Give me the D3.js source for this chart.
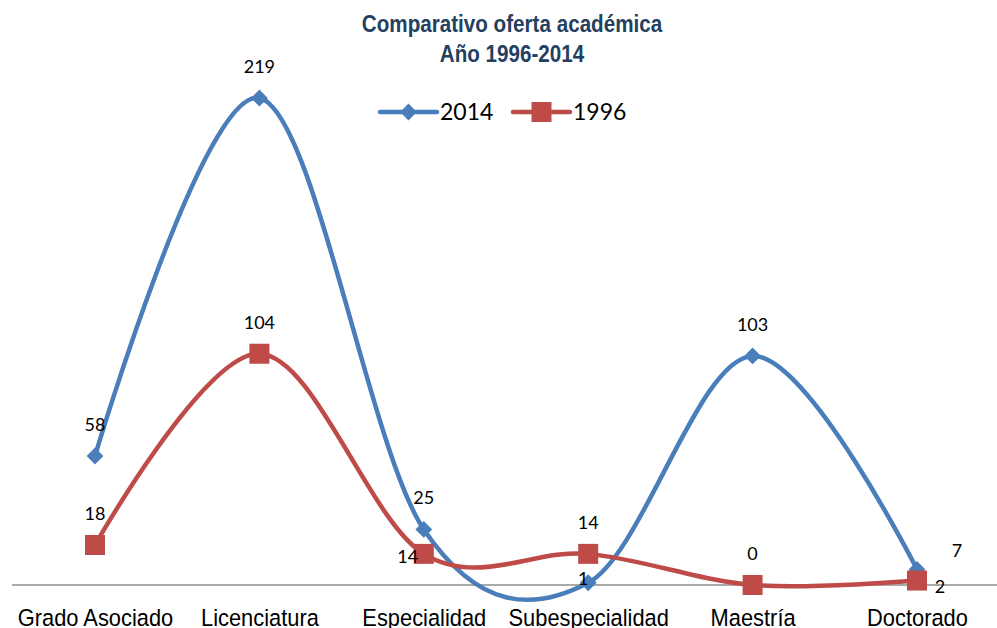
<!DOCTYPE html>
<html>
<head>
<meta charset="utf-8">
<script src="https://cdnjs.cloudflare.com/ajax/libs/d3/7.8.5/d3.min.js"></script>
<style>
  body { margin: 0; background: #fff; }
  svg { display: block; }
</style>
</head>
<body>
<div id="chart"></div>
<script>
// Data
var categories = ["Grado Asociado", "Licenciatura", "Especialidad", "Subespecialidad", "Maestría", "Doctorado"];
var values2014 = [58, 219, 25, 1, 103, 7];
var values1996 = [18, 104, 14, 14, 0, 2];
var seriesNames = ["2014", "1996"];
var titleLines = ["Comparativo oferta académica", "Año 1996-2014"];

// label placement per point
var labelPos2014 = ["top", "top", "top", "topleft", "top", "topright"];
var labelPos1996 = ["top", "top", "left", "top", "top", "right"];

var W = 997, H = 628;
var blue = "#4A7EBB", red = "#BE4B48";

var svg = d3.select("#chart").append("svg")
    .attr("width", W)
    .attr("height", H);

var x = d3.scalePoint()
    .domain(categories)
    .range([95, 917]);

var y = d3.scaleLinear()
    .domain([0, 219])
    .range([585, 98]);

// Title (narrow bold look)
svg.append("g").selectAll("text")
    .data(titleLines)
    .enter().append("text")
    .attr("transform", function(d, i) {
        return "translate(512," + (32 + i * 30) + ") scale(0.86,1)";
    })
    .attr("text-anchor", "middle")
    .style("font-family", "'Liberation Sans', Arial, sans-serif")
    .style("font-weight", "bold")
    .style("font-size", "24px")
    .style("fill", "#243F60")
    .text(function(d) { return d; });

// Axis line
svg.append("line")
    .attr("x1", 12).attr("x2", W)
    .attr("y1", y(0)).attr("y2", y(0))
    .attr("stroke", "#8c8c8c")
    .attr("stroke-width", 1.5);

// Category labels
var xAxis = d3.axisBottom(x).tickSize(0).tickPadding(0);
var gx = svg.append("g")
    .attr("transform", "translate(0," + y(0) + ")")
    .call(xAxis);
gx.select(".domain").remove();
gx.selectAll("text")
    .attr("dy", 0)
    .attr("y", 0)
    .attr("transform", "translate(0,41) scale(0.93,1)")
    .style("font-family", "'Liberation Sans', Arial, sans-serif")
    .style("font-size", "23.5px")
    .style("fill", "#000");

var line = d3.line()
    .x(function(d, i) { return x(categories[i]); })
    .y(function(d) { return y(d); })
    .curve(d3.curveCatmullRom.alpha(0));

function markerPath(marker) {
    return marker === "diamond"
        ? d3.symbol().type(d3.symbolDiamond2).size(180)()
        : d3.symbol().type(d3.symbolSquare).size(400)();
}

function drawSeries(vals, color, marker, positions) {
    svg.append("path")
        .datum(vals)
        .attr("d", line)
        .attr("fill", "none")
        .attr("stroke", color)
        .attr("stroke-width", 4.5)
        .attr("stroke-linejoin", "round");

    svg.append("g").selectAll("path")
        .data(vals)
        .enter().append("path")
        .attr("d", markerPath(marker))
        .attr("transform", function(d, i) {
            return "translate(" + x(categories[i]) + "," + y(d) + ")";
        })
        .attr("fill", color);

    svg.append("g").selectAll("text")
        .data(vals)
        .enter().append("text")
        .attr("x", function(d, i) {
            var p = positions[i], cx = x(categories[i]);
            if (p === "left") return cx - 16;
            if (p === "right") return cx + 23;
            if (p === "topleft") return cx - 5;
            if (p === "topright") return cx + 40;
            return cx;
        })
        .attr("y", function(d, i) {
            var p = positions[i], cy = y(d);
            if (p === "left") return cy + 9;
            if (p === "right") return cy + 12;
            if (p === "topleft") return cy + 2;
            if (p === "topright") return cy - 12;
            return cy - 25;
        })
        .attr("text-anchor", "middle")
        .style("font-family", "Lato, 'Open Sans', sans-serif")
        .style("font-size", "18px")
        .style("fill", "#000")
        .text(function(d) { return d; });
}

drawSeries(values2014, blue, "diamond", labelPos2014);
drawSeries(values1996, red, "square", labelPos1996);

// Legend
var legend = [
    { name: seriesNames[0], color: blue, marker: "diamond", x: 380 },
    { name: seriesNames[1], color: red, marker: "square", x: 513 }
];
var lg = svg.append("g").selectAll("g")
    .data(legend)
    .enter().append("g")
    .attr("transform", function(d) { return "translate(" + d.x + ",112)"; });
lg.append("line")
    .attr("x1", 0).attr("x2", 57)
    .attr("stroke", function(d) { return d.color; })
    .attr("stroke-width", 4.5)
    .attr("stroke-linecap", "round");
lg.append("path")
    .attr("d", function(d) { return markerPath(d.marker); })
    .attr("transform", "translate(28.5,0)")
    .attr("fill", function(d) { return d.color; });
lg.append("text")
    .attr("x", 60).attr("y", 8)
    .style("font-family", "Lato, 'Open Sans', sans-serif")
    .style("font-size", "23px")
    .style("fill", "#000")
    .text(function(d) { return d.name; });
</script>
</body>
</html>
